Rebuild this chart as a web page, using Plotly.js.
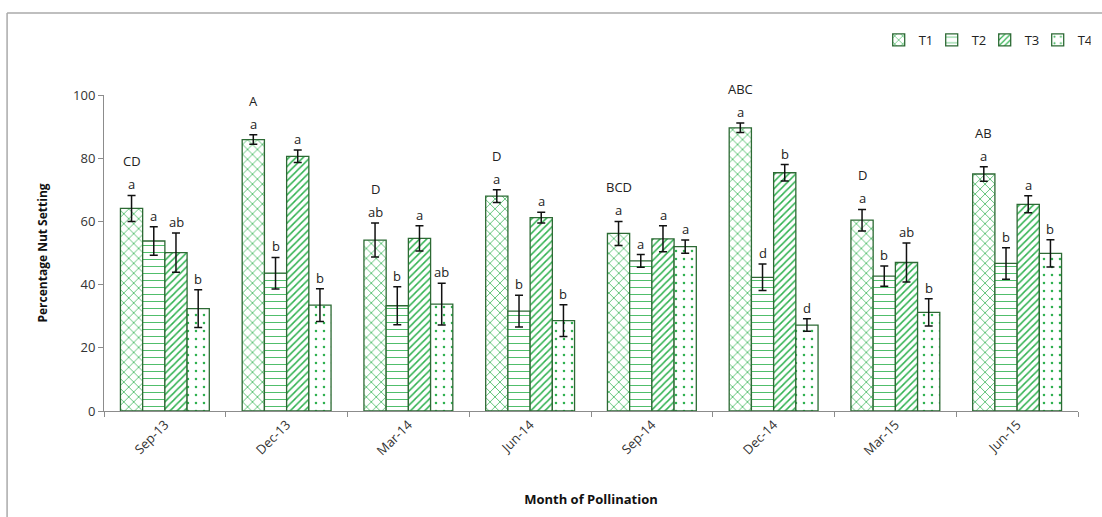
<!DOCTYPE html>
<html>
<head>
<meta charset="utf-8">
<script src="https://cdn.plot.ly/plotly-3.0.1.min.js"></script>
<style>html,body{margin:0;padding:0;background:#fff;}#chart{width:1102px;height:517px;}</style>
</head>
<body>
<div id="chart"></div>
<script>
const months = ["Sep-13","Dec-13","Mar-14","Jun-14","Sep-14","Dec-14","Mar-15","Jun-15"];
const seriesNames = ["T1","T2","T3","T4"];
const T1 = [64.1, 85.9, 54.1, 68.0, 56.2, 89.6, 60.4, 75.0];
const T2 = [53.8, 43.6, 33.3, 31.6, 47.5, 42.3, 42.7, 46.7];
const T3 = [50.1, 80.6, 54.6, 61.2, 54.5, 75.4, 47.0, 65.4];
const T4 = [32.4, 33.5, 33.8, 28.6, 52.0, 27.2, 31.2, 49.9];
const T1err = [4.1, 1.5, 5.4, 2.0, 3.8, 1.5, 3.4, 2.3];
const T2err = [4.5, 5.0, 6.0, 5.0, 2.0, 4.2, 3.2, 5.0];
const T3err = [6.2, 2.0, 4.0, 1.7, 4.1, 2.6, 6.2, 2.7];
const T4err = [6.0, 5.2, 6.6, 5.0, 2.1, 2.0, 4.3, 4.3];
const T1letters = ["a","a","ab","a","a","a","a","a"];
const T2letters = ["a","b","b","b","a","d","b","b"];
const T3letters = ["ab","a","a","a","a","b","ab","a"];
const T4letters = ["b","b","ab","b","a","d","b","b"];
const groupLetters = ["CD","A","D","D","BCD","ABC","D","AB"];

const values = [T1, T2, T3, T4];
const errs = [T1err, T2err, T3err, T4err];
const letters = [T1letters, T2letters, T3letters, T4letters];
const shapes = ["x", "-", "/", "."];
const sizes = [7, 7, 5, 8];
const solid = [0.2, 0.12, 0.3, 0.08];
const green = "#2fb14f";
const edge = "#2d6a34";

const traces = seriesNames.map((n, i) => ({
  type: "bar",
  name: n,
  x: months,
  y: values[i],
  marker: {
    color: "#ffffff",
    line: {color: edge, width: 1.3},
    pattern: {shape: shapes[i], fgcolor: green, bgcolor: "#ffffff", size: sizes[i], solidity: solid[i], fillmode: "replace"}
  },
  error_y: {type: "data", array: errs[i], visible: true, color: "#111", thickness: 1.5, width: 4}
}));

const plotW = 975;
const catPx = plotW / months.length;
const bargap = 0.27;
const barPx = catPx * (1 - bargap) / 4;

const annotations = [];
for (let i = 0; i < 4; i++) {
  for (let j = 0; j < months.length; j++) {
    annotations.push({
      x: months[j], xref: "x", y: values[i][j] + errs[i][j], yref: "y",
      xshift: (i - 1.5) * barPx, yshift: 11,
      text: letters[i][j], showarrow: false,
      font: {family: "Open Sans, sans-serif", size: 13, color: "#222"},
      xanchor: "center", yanchor: "middle"
    });
  }
}
for (let j = 0; j < months.length; j++) {
  annotations.push({
    x: months[j], xref: "x", y: T1[j] + T1err[j], yref: "y",
    xshift: -1.5 * barPx, yshift: 34,
    text: groupLetters[j], showarrow: false,
    font: {family: "Open Sans, sans-serif", size: 13, color: "#222"},
    xanchor: "center", yanchor: "middle"
  });
}

const layout = {
  width: 1102, height: 517,
  margin: {l: 104, r: 23, t: 95, b: 106},
  paper_bgcolor: "#ffffff",
  plot_bgcolor: "#ffffff",
  barmode: "group",
  bargap: bargap,
  bargroupgap: 0,
  showlegend: true,
  legend: {
    orientation: "h", x: 1.012, xanchor: "right", y: 1.174, yanchor: "middle",
    font: {family: "Open Sans, sans-serif", size: 13, color: "#222"},
    itemwidth: 30, entrywidth: 8, entrywidthmode: "pixels",
    traceorder: "normal", bgcolor: "rgba(0,0,0,0)"
  },
  xaxis: {
    type: "category",
    tickangle: -45,
    showline: true, linecolor: "#8c8c8c", linewidth: 1,
    ticks: "outside", tickson: "boundaries", ticklen: 5, tickcolor: "#8c8c8c",
    tickfont: {family: "Open Sans, sans-serif", size: 13, color: "#333"},
    showgrid: false, zeroline: false,
    title: {text: "<b>Month of Pollination</b>", font: {family: "Open Sans, sans-serif", size: 13, color: "#111"}, standoff: 36}
  },
  yaxis: {
    range: [0, 100], dtick: 20, tick0: 0,
    showline: true, linecolor: "#8c8c8c", linewidth: 1,
    ticks: "outside", ticklen: 5, tickcolor: "#8c8c8c",
    tickfont: {family: "Open Sans, sans-serif", size: 13, color: "#333"},
    showgrid: false, zeroline: false,
    title: {text: "<b>Percentage Nut Setting</b>", font: {family: "Open Sans, sans-serif", size: 12, color: "#111"}, standoff: 22}
  },
  annotations: annotations,
  shapes: [
    {type: "line", xref: "paper", yref: "paper", x0: -0.0995, x1: 1.03, y0: 1.2595, y1: 1.2595, line: {color: "#aaaaaa", width: 1.5}},
    {type: "line", xref: "paper", yref: "paper", x0: -0.0995, x1: -0.0995, y0: 1.2595, y1: -0.34, line: {color: "#aaaaaa", width: 1.5}}
  ]
};

Plotly.newPlot("chart", traces, layout, {displayModeBar: false, staticPlot: true});
</script>
</body>
</html>
